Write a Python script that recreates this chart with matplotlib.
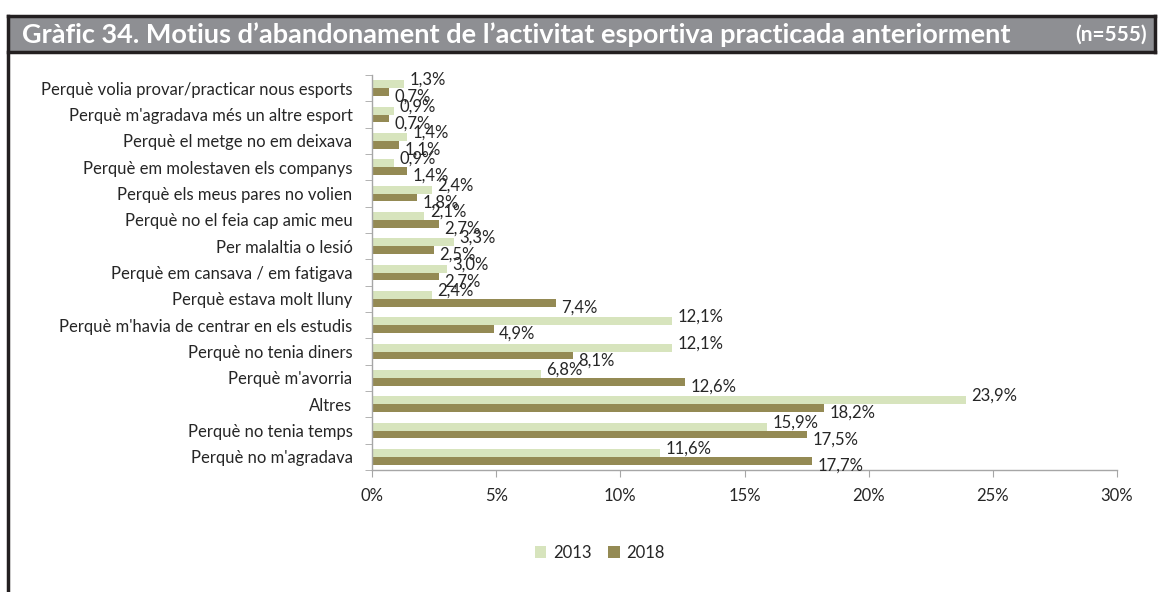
import numpy as np
import matplotlib
matplotlib.use("Agg")
import matplotlib.pyplot as plt
from matplotlib.lines import Line2D
from matplotlib.patches import Rectangle

plt.rcParams['font.family'] = ['Lato', 'DejaVu Sans']

categories = [
    "Perquè volia provar/practicar nous esports",
    "Perquè m'agradava més un altre esport",
    "Perquè el metge no em deixava",
    "Perquè em molestaven els companys",
    "Perquè els meus pares no volien",
    "Perquè no el feia cap amic meu",
    "Per malaltia o lesió",
    "Perquè em cansava / em fatigava",
    "Perquè estava molt lluny",
    "Perquè m'havia de centrar en els estudis",
    "Perquè no tenia diners",
    "Perquè m'avorria",
    "Altres",
    "Perquè no tenia temps",
    "Perquè no m'agradava",
]
values_2013 = [1.3, 0.9, 1.4, 0.9, 2.4, 2.1, 3.3, 3.0, 2.4, 12.1, 12.1, 6.8, 23.9, 15.9, 11.6]
values_2018 = [0.7, 0.7, 1.1, 1.4, 1.8, 2.7, 2.5, 2.7, 7.4, 4.9, 8.1, 12.6, 18.2, 17.5, 17.7]
series_labels = ["2013", "2018"]
x_ticks = [0, 5, 10, 15, 20, 25, 30]

title = "Gràfic 34. Motius d\u2019abandonament de l\u2019activitat esportiva practicada anteriorment"
n_text = "(n=555)"

c2013 = "#D7E4BD"
c2018 = "#948A54"
text_col = "#262626"
axis_col = "#A6A6A6"
fs = 12

W, H = 1158, 592
fig = plt.figure(figsize=(W / 100, H / 100), dpi=100)

# frame and header band
fig.patches.append(Rectangle((8 / W, 1 - 52 / H), (1155 - 8) / W, 35 / H,
                             transform=fig.transFigure, facecolor="#8E8F93",
                             edgecolor="none", zorder=0))
lw = 2.5
fig.add_artist(Line2D([8 / W, 1155 / W], [1 - 16 / H, 1 - 16 / H], color="#231F20", lw=lw))
fig.add_artist(Line2D([8 / W, 1155 / W], [1 - 52 / H, 1 - 52 / H], color="#231F20", lw=lw))
fig.add_artist(Line2D([8 / W, 8 / W], [1 - 16 / H, 0], color="#231F20", lw=lw))
fig.add_artist(Line2D([1155 / W, 1155 / W], [1 - 16 / H, 1 - 52 / H], color="#231F20", lw=lw))

fig.text(22 / W, 1 - 35 / H, title, color="white", fontsize=19.5, fontweight="bold",
         va="center", ha="left")
fig.text(1147 / W, 1 - 35 / H, n_text, color="white", fontsize=15, fontweight="bold",
         va="center", ha="right")

ax = fig.add_axes([372 / W, 1 - 470 / H, (1117 - 372) / W, (470 - 75) / H])

n = len(categories)
y = np.arange(n)[::-1]
h = 0.3
ax.barh(y + h / 2, values_2013, height=h, color=c2013, label=series_labels[0], zorder=2)
ax.barh(y - h / 2, values_2018, height=h, color=c2018, label=series_labels[1], zorder=2)

for yi, v in zip(y, values_2013):
    ax.annotate(f"{v:.1f}%".replace(".", ","), (v, yi + h / 2), xytext=(4, 3),
                textcoords="offset points", va="center", ha="left",
                fontsize=fs, color=text_col)
for yi, v in zip(y, values_2018):
    ax.annotate(f"{v:.1f}%".replace(".", ","), (v, yi - h / 2), xytext=(4, -3.5),
                textcoords="offset points", va="center", ha="left",
                fontsize=fs, color=text_col)

ax.set_xlim(0, 30)
ax.set_ylim(-0.5, n - 0.5)
ax.set_xticks(x_ticks)
ax.set_xticklabels([f"{t}%" for t in x_ticks], fontsize=fs, color=text_col)
ax.set_yticks(y)
ax.set_yticklabels(categories, fontsize=fs, color=text_col)
ax.set_yticks(np.arange(n + 1) - 0.5, minor=True)
ax.tick_params(axis="y", which="major", length=0, pad=14)
ax.tick_params(axis="y", which="minor", length=5, color=axis_col, direction="out")
ax.tick_params(axis="x", length=5, color=axis_col, direction="out", pad=8)

for s in ["top", "right"]:
    ax.spines[s].set_visible(False)
for s in ["left", "bottom"]:
    ax.spines[s].set_color(axis_col)
    ax.spines[s].set_linewidth(1)

leg = fig.legend(loc="center", bbox_to_anchor=(600 / W, 1 - 553 / H), ncol=2,
                 frameon=False, fontsize=fs, handlelength=0.7, handleheight=0.7,
                 handletextpad=0.4, columnspacing=1.0)
for t in leg.get_texts():
    t.set_color(text_col)

fig.savefig("out.png", dpi=100)
